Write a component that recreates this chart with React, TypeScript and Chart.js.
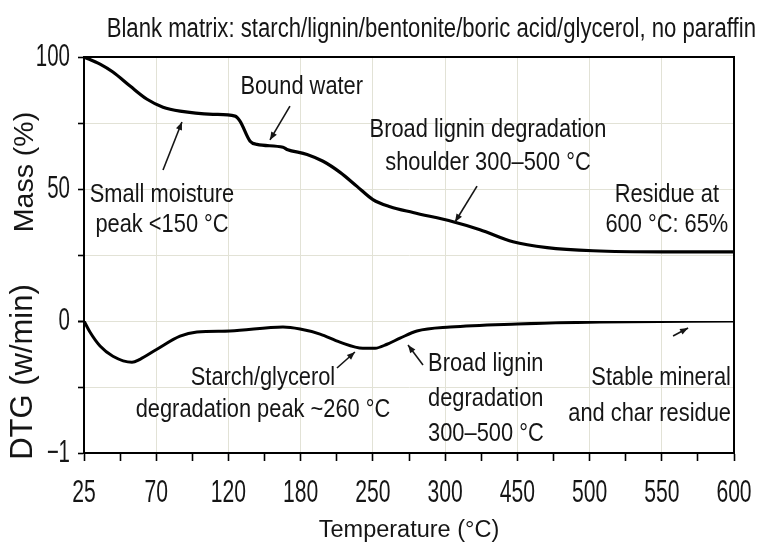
import { useEffect, useRef } from "react";
import { Chart, registerables, LinearScale } from "chart.js";

Chart.register(...registerables);

// ---- data ----
const tempTicks = [25, 70, 120, 180, 250, 300, 450, 500, 550, 600];

const massTemps = [25, 35, 43, 53.7, 64.3, 74.7, 86.5, 109.3, 125.5, 129.6, 138, 143.7, 165.3, 168.6, 186.2, 201.7, 218.2, 234.6, 250, 261.9, 277.8, 316.5, 372.4, 441, 470.6, 502.5, 551, 600];
const massValues = [100, 97.3, 94.3, 89.0, 84.0, 81.0, 79.5, 78.3, 77.6, 75.7, 68.1, 66.9, 65.8, 65.0, 63.1, 60.5, 56.3, 51.0, 46.0, 43.3, 41.1, 37.6, 34.6, 30.0, 27.8, 26.6, 26.2, 26.2];

const dtgTemps = [25, 28.7, 35, 43, 54.9, 59.9, 70.5, 86.5, 98.2, 121.2, 165.3, 179.5, 198.8, 218, 240.3, 251.5, 259.8, 268.8, 280.5, 310.5, 450, 507, 600];
const dtgValues = [0, -0.084, -0.19, -0.267, -0.313, -0.29, -0.214, -0.115, -0.084, -0.076, -0.046, -0.061, -0.099, -0.16, -0.206, -0.206, -0.176, -0.13, -0.076, -0.046, -0.023, -0.008, 0];

const massTickLabels = [50, 100];
const dtgTickLabels = [0, -1];

const titleText = "Blank matrix: starch/lignin/bentonite/boric acid/glycerol, no paraffin";

type Note = { lines: string[]; t: number; v: number; axis: string; align: CanvasTextAlign; lh: number };
const notes: Note[] = [
  { lines: ["Small moisture", "peak <150 °C"], t: 74, v: 47.7, axis: "mass", align: "center", lh: 30 },
  { lines: ["Bound water"], t: 181, v: 88.6, axis: "mass", align: "center", lh: 30 },
  { lines: ["Broad lignin degradation", "shoulder 300–500 °C"], t: 389, v: 72.3, axis: "mass", align: "center", lh: 33 },
  { lines: ["Residue at", "600 °C: 65%"], t: 553.5, v: 47.7, axis: "mass", align: "center", lh: 30 },
  { lines: ["Starch/glycerol", "degradation peak ~260 °C"], t: 148.7, v: -0.432, axis: "dtg", align: "center", lh: 32 },
  { lines: ["Broad lignin", "degradation", "300–500 °C"], t: 288.2, v: -0.326, axis: "dtg", align: "left", lh: 35 },
  { lines: ["Stable mineral", "and char residue"], t: 597.9, v: -0.432, axis: "dtg", align: "right", lh: 36 },
];

type Arrow = { from: [number, number]; to: [number, number]; axis: string };
const arrows: Arrow[] = [
  { from: [74.7, 57.2], to: [87.8, 75.4], axis: "mass" },
  { from: [171.1, 81.4], to: [154.5, 68.6], axis: "mass" },
  { from: [366.3, 51.1], to: [320.6, 37.5], axis: "mass" },
  { from: [215.2, -0.356], to: [232.6, -0.235], axis: "dtg" },
  { from: [284.7, -0.333], to: [274.3, -0.182], axis: "dtg" },
  { from: [557.8, -0.114], to: [568.2, -0.053], axis: "dtg" },
];

// map temperature onto the evenly spaced tick positions of the axis
function tempToPos(t: number): number {
  for (let i = 0; i < tempTicks.length - 1; i++) {
    const a = tempTicks[i], b = tempTicks[i + 1];
    if (t <= b || i === tempTicks.length - 2) return i + (t - a) / (b - a);
  }
  return tempTicks.length - 1;
}

const FONT = "'Liberation Sans', Arial, sans-serif";
const INK = "#151515";
const GRID = "#e2e2d6";

// condensed look of the reference lettering (horizontal squeeze) and title shifts
const SCALE_STYLE: Record<string, { squeeze: number; titleShift: number }> = {
  x: { squeeze: 0.66, titleShift: 0 },
  mass: { squeeze: 0.66, titleShift: -17 },
  dtg: { squeeze: 0.66, titleShift: -15 },
};

function withSqueeze(ctx: any, sx: number, fn: () => void) {
  const orig = CanvasRenderingContext2D.prototype.fillText;
  ctx.fillText = function (t: string, x: number, y: number) {
    this.save();
    this.translate(x, y);
    this.scale(sx, 1);
    orig.call(this, t, 0, 0);
    this.restore();
  };
  try {
    fn();
  } finally {
    delete ctx.fillText;
  }
}

class CondensedLinear extends LinearScale {
  static id = "condensedLinear";
  static defaults = LinearScale.defaults;
  drawLabels(ca: any) {
    const st = SCALE_STYLE[(this as any).id] || { squeeze: 1, titleShift: 0 };
    withSqueeze((this as any).ctx, st.squeeze, () => super.drawLabels(ca));
  }
  drawTitle() {
    const st = SCALE_STYLE[(this as any).id] || { squeeze: 1, titleShift: 0 };
    const ctx = (this as any).ctx as CanvasRenderingContext2D;
    ctx.save();
    ctx.translate(0, st.titleShift);
    super.drawTitle();
    ctx.restore();
  }
}
Chart.register(CondensedLinear as any);

function sqText(ctx: CanvasRenderingContext2D, text: string, x: number, y: number, align: CanvasTextAlign, sx: number) {
  ctx.save();
  ctx.translate(x, y);
  ctx.scale(sx, 1);
  ctx.textAlign = align;
  ctx.fillText(text, 0, 0);
  ctx.restore();
}

const overlayPlugin = {
  id: "overlay",
  afterDraw(chart: any) {
    const ctx = chart.ctx as CanvasRenderingContext2D;
    const ca = chart.chartArea;
    const xs = chart.scales.x;
    ctx.save();
    ctx.strokeStyle = "#000";
    ctx.lineWidth = 2;
    ctx.strokeRect(ca.left, ca.top, ca.right - ca.left, ca.bottom - ca.top);
    ctx.fillStyle = INK;
    ctx.textBaseline = "middle";
    ctx.font = `27px ${FONT}`;
    sqText(ctx, titleText, chart.width - 3, 30, "right", 0.82);
    ctx.font = `26px ${FONT}`;
    for (const n of notes) {
      const ys = chart.scales[n.axis];
      const x = xs.getPixelForValue(tempToPos(n.t));
      const y = ys.getPixelForValue(n.v);
      n.lines.forEach((l, i) => sqText(ctx, l, x, y + i * n.lh, n.align, 0.84));
    }
    ctx.strokeStyle = INK;
    ctx.fillStyle = INK;
    ctx.lineWidth = 1.6;
    for (const a of arrows) {
      const ys = chart.scales[a.axis];
      const x1 = xs.getPixelForValue(tempToPos(a.from[0]));
      const y1 = ys.getPixelForValue(a.from[1]);
      const x2 = xs.getPixelForValue(tempToPos(a.to[0]));
      const y2 = ys.getPixelForValue(a.to[1]);
      ctx.beginPath();
      ctx.moveTo(x1, y1);
      ctx.lineTo(x2, y2);
      ctx.stroke();
      const ang = Math.atan2(y2 - y1, x2 - x1);
      const L = 8, W = 3.2;
      ctx.beginPath();
      ctx.moveTo(x2, y2);
      ctx.lineTo(x2 - L * Math.cos(ang) + W * Math.sin(ang), y2 - L * Math.sin(ang) - W * Math.cos(ang));
      ctx.lineTo(x2 - L * Math.cos(ang) - W * Math.sin(ang), y2 - L * Math.sin(ang) + W * Math.cos(ang));
      ctx.closePath();
      ctx.fill();
    }
    ctx.restore();
  },
};

export default function App() {
  const ref = useRef<HTMLCanvasElement | null>(null);
  useEffect(() => {
    if (!ref.current) return;
    const chart = new Chart(ref.current, {
      type: "line",
      data: {
        datasets: [
          {
            label: "Mass",
            data: massTemps.map((t, i) => ({ x: tempToPos(t), y: massValues[i] })),
            yAxisID: "mass",
            borderColor: "#000",
            borderWidth: 3.2,
            pointRadius: 0,
            cubicInterpolationMode: "monotone",
            borderJoinStyle: "round",
            borderCapStyle: "round",
          },
          {
            label: "DTG",
            data: dtgTemps.map((t, i) => ({ x: tempToPos(t), y: dtgValues[i] })),
            yAxisID: "dtg",
            borderColor: "#000",
            borderWidth: 3,
            pointRadius: 0,
            cubicInterpolationMode: "monotone",
            borderJoinStyle: "round",
            borderCapStyle: "round",
          },
        ],
      },
      options: {
        animation: false,
        responsive: true,
        maintainAspectRatio: false,
        layout: { padding: { top: 57, right: 25, left: 0, bottom: 0 } },
        plugins: { legend: { display: false }, tooltip: { enabled: false }, title: { display: false } },
        scales: {
          x: {
            type: "condensedLinear",
            min: 0,
            max: tempTicks.length - 1,
            afterFit: (s: any) => { s.height = 100; s.paddingLeft = 0; s.paddingRight = 0; },
            ticks: {
              stepSize: 0.5,
              autoSkip: false,
              maxRotation: 0,
              padding: 13,
              color: INK,
              font: { family: FONT, size: 32 },
              callback: (v: any) => (Number.isInteger(v) ? String(tempTicks[v]) : ""),
            },
            grid: {
              color: (c: any) => (c.tick && Number.isInteger(c.tick.value) && c.tick.value > 0 && c.tick.value < tempTicks.length - 1 ? GRID : "rgba(0,0,0,0)"),
              tickColor: "#000",
              tickLength: 8,
              tickWidth: 1.6,
            },
            border: { color: "#000", width: 2 },
            title: { display: true, text: "Temperature (°C)", color: INK, font: { family: FONT, size: 23.5 }, padding: { top: 0, bottom: 8 } },
          },
          dtg: {
            type: "condensedLinear",
            position: "left",
            stack: "y",
            stackWeight: 1,
            min: -1,
            max: 0,
            afterFit: (s: any) => { s.width = 84; s.paddingTop = 0; s.paddingBottom = 0; },
            ticks: {
              stepSize: 0.5,
              padding: 8,
              color: INK,
              font: { family: FONT, size: 31 },
              callback: (v: any) => (dtgTickLabels.includes(v) ? (v < 0 ? "−" + Math.abs(v) : String(v)) : ""),
            },
            grid: {
              color: (c: any) => (c.tick && (c.tick.value === 0 || c.tick.value === -0.5) ? GRID : "rgba(0,0,0,0)"),
              tickColor: "#000",
              tickLength: 6,
              tickWidth: 1.6,
            },
            border: { color: "#000", width: 2 },
            title: { display: true, text: "DTG (w/min)", color: INK, font: { family: FONT, size: 31 }, padding: { top: 5, bottom: 0 } },
          },
          mass: {
            type: "condensedLinear",
            position: "left",
            stack: "y",
            stackWeight: 2,
            min: 0,
            max: 100,
            afterFit: (s: any) => { s.width = 84; s.paddingTop = 0; s.paddingBottom = 0; },
            ticks: {
              stepSize: 25,
              padding: 8,
              color: INK,
              font: { family: FONT, size: 31 },
              callback: (v: any) => (massTickLabels.includes(v) ? String(v) : ""),
            },
            grid: {
              color: (c: any) => (c.tick && [25, 50, 75].includes(c.tick.value) ? GRID : "rgba(0,0,0,0)"),
              tickColor: "#000",
              tickLength: 6,
              tickWidth: 1.6,
            },
            border: { color: "#000", width: 2 },
            title: { display: true, text: "Mass (%)", color: INK, font: { family: FONT, size: 28.5 }, padding: { top: 8, bottom: 0 } },
          },
        },
      } as any,
      plugins: [overlayPlugin],
    });
    return () => chart.destroy();
  }, []);
  return (
    <div style={{ position: "absolute", left: 0, top: 0, width: 759, height: 553, background: "#fff" }}>
      <canvas ref={ref} />
    </div>
  );
}
